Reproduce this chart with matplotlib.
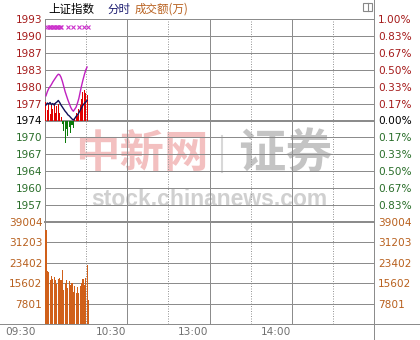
import numpy as np
import matplotlib
matplotlib.use('Agg')
import matplotlib.pyplot as plt
from matplotlib.lines import Line2D
from matplotlib.patches import Rectangle
import matplotlib.transforms as mtransforms

plt.rcParams['font.family'] = ['DejaVu Sans', 'Noto Sans CJK SC']

# ---- data -------------------------------------------------------------- #
prev_close = 1974.0
price_labels = ['1993', '1990', '1987', '1983', '1980', '1977', '1974',
                '1970', '1967', '1964', '1960', '1957']
pct_labels = ['1.00%', '0.83%', '0.67%', '0.50%', '0.33%', '0.17%', '0.00%',
              '0.17%', '0.33%', '0.50%', '0.67%', '0.83%']
vol_ticks = [39004, 31203, 23402, 15602, 7801]
time_labels = ['09:30', '10:30', '13:00', '14:00']
time_ticks = [0, 60, 120, 180]

# index line (minutes since 09:30)
price = [1978.8, 1979.6, 1980.2, 1980.6, 1981.0, 1981.5, 1981.9, 1982.3,
         1982.7, 1983.0, 1982.9, 1982.4, 1981.6, 1980.6, 1979.6, 1978.8,
         1978.0, 1977.3, 1976.6, 1976.1, 1975.8, 1976.2, 1976.6, 1977.4,
         1978.3, 1979.6, 1980.8, 1981.9, 1982.9, 1983.8, 1984.4]
# unweighted index line
avg_line = [1977.0, 1977.4, 1977.2, 1977.5, 1977.1, 1977.3, 1977.0, 1977.4,
            1977.6, 1977.9, 1977.5, 1977.0, 1976.6, 1976.2, 1975.8, 1975.5,
            1975.1, 1974.9, 1974.6, 1974.3, 1974.1, 1974.4, 1974.8, 1975.1,
            1975.5, 1976.0, 1976.5, 1977.0, 1977.3, 1977.6, 1977.9]
# red / green bars (points above/below previous close)
rg_bars = [3.6, 2.0, 3.4, 1.2, 3.0, 2.2, 3.5, 1.5, 2.8, 3.2, 1.4, 0.6,
           -0.6, -2.0, -4.3, -1.6, -3.0, -1.2, -2.4, -0.8, -1.4, 0.4,
           1.5, 0.8, 2.2, 3.0, 4.2, 5.5, 6.0, 5.4, 5.0]
# turnover, 10k yuan per minute
volume = [35800, 20100, 19800, 17000, 18200, 17200, 18000, 16900, 15400,
          17200, 17600, 16700, 20800, 13100, 15700, 16900, 13700, 16300,
          15000, 15700, 12400, 14400, 12000, 14100, 11800, 14400, 15700,
          17200, 15000, 17600, 22700, 9200]
marker_minutes = [1, 2, 3, 4, 5, 6, 7, 8, 9, 10, 11, 16, 20, 24, 28, 31]

# ---- colours ----------------------------------------------------------- #
RED = '#a51b1b'
GREEN = '#2a6e2a'
BROWN = '#b8601e'
GRID = '#8c8c8c'
PX = 0.72  # one pixel in points

W, H = 420, 340
fig = plt.figure(figsize=(W / 100, H / 100), dpi=100)

def fx(px):
    return px / W

def fy(py):
    return 1 - py / H

ax = fig.add_axes([fx(45), fy(222), fx(374) - fx(45), fy(19) - fy(222)])
axv = fig.add_axes([fx(45), fy(324), fx(374) - fx(45), fy(222) - fy(324)])

levels = [prev_close * (1 + k * 0.01 / 6) for k in range(6, -7, -1)][:12]
ymin = prev_close * 0.99
ymax = prev_close * 1.01

for a in (ax, axv):
    a.set_xlim(0, 240)
    a.set_facecolor('none')
    for s in a.spines.values():
        s.set_color(GRID)
        s.set_linewidth(PX)
    a.set_xticks([])
    a.tick_params(length=0)
    for m in range(30, 240, 30):
        if m % 60 == 0:
            a.axvline(m, color=GRID, lw=PX, zorder=1)
        else:
            a.axvline(m, color='#999999', lw=PX, ls=(0, (1, 1.5)), zorder=1)

# price panel
ax.set_ylim(ymin, ymax)
for i, lv in enumerate(levels):
    if i == 0:
        continue
    ax.axhline(lv, color=GRID, lw=2 * PX if i == 6 else PX, zorder=1)
ax.spines['bottom'].set_linewidth(2 * PX)

lab_colors = [RED] * 6 + ['black'] + [GREEN] * 5
ax.set_yticks(levels)
ax.set_yticklabels(price_labels, fontsize=7.6)
for t, c in zip(ax.get_yticklabels(), lab_colors):
    t.set_color(c)
ax.tick_params(axis='y', pad=2)
axr = ax.twinx()
axr.set_ylim(ymin, ymax)
axr.set_yticks(levels)
axr.set_yticklabels(pct_labels, fontsize=7.6)
for t, c in zip(axr.get_yticklabels(), lab_colors):
    t.set_color(c)
axr.tick_params(length=0, pad=3)
for s in axr.spines.values():
    s.set_visible(False)

mins = np.arange(len(price)) + 0.7
rg = np.array(rg_bars)
ax.bar(mins[rg > 0], rg[rg > 0], bottom=prev_close, width=0.75,
       color='#e00000', zorder=3)
ax.bar(mins[rg < 0], rg[rg < 0], bottom=prev_close, width=0.75,
       color='#0a7a0a', zorder=3)
ax.plot(mins, avg_line, color='#10105a', lw=1.0, zorder=4)
ax.plot(mins, price, color='#c020c0', lw=1.0, zorder=5)
mark_y = levels[0] - (levels[0] - levels[1]) * 0.45
ax.plot(np.array(marker_minutes) + 0.7, [mark_y] * len(marker_minutes), ls='none',
        marker='x', ms=2.2, mew=0.8, color='#cc33cc', zorder=5)

# watermark, under the grid lines
cjk = ['Noto Sans CJK SC', 'DejaVu Sans']
ax.text(fx(142), fy(154), '中新网', family=cjk, fontsize=32, fontweight='bold',
        fontstyle='italic', color='#f3c0c0', ha='center', va='center',
        transform=fig.transFigure, zorder=0.5, clip_on=False)
ax.add_artist(Line2D([fx(222), fx(222)], [fy(172), fy(136)], color='#d8d8d8',
                     lw=1.5, transform=fig.transFigure, zorder=0.5))
ax.text(fx(285), fy(154), '证券', family=cjk, fontsize=34, fontweight='bold',
        color='#c4c4c4', ha='center', va='center',
        transform=fig.transFigure, zorder=0.5, clip_on=False)
ax.text(fx(209), fy(200), 'stock.chinanews.com', family=['Liberation Sans', 'DejaVu Sans'],
        fontsize=16.5, fontweight='bold', color='#d0d0d0', ha='center', va='center',
        transform=fig.transFigure, zorder=0.5, clip_on=False)

# volume panel
axv.set_ylim(0, 39004)
for v in vol_ticks[1:]:
    axv.axhline(v, color=GRID, lw=PX, zorder=1)
axv.set_yticks(vol_ticks)
axv.set_yticklabels([str(v) for v in vol_ticks], fontsize=7.6, color=BROWN)
axv.tick_params(axis='y', pad=2)
axv.spines['top'].set_visible(False)
axvr = axv.twinx()
axvr.set_ylim(0, 39004)
axvr.set_yticks(vol_ticks)
axvr.set_yticklabels([str(v) for v in vol_ticks], fontsize=7.6, color=BROWN)
axvr.tick_params(length=0, pad=3)
for s in axvr.spines.values():
    s.set_visible(False)
axv.bar(np.arange(len(volume)) + 0.7, volume, width=0.8, color='#d0601a', zorder=3)

# time labels
trans = mtransforms.blended_transform_factory(axv.transData, fig.transFigure)
for m, lab in zip(time_ticks, time_labels):
    dx = -9 if m == 0 else -1
    axv.annotate(lab, (m, fy(332)), xycoords=trans, xytext=(dx, 0),
                 textcoords='offset pixels', ha='right', va='center',
                 fontsize=7.6, color='#707070', annotation_clip=False)

# frame lines reaching the figure edges
fig.add_artist(Line2D([0, 1], [fy(324), fy(324)], color=GRID, lw=PX))
fig.add_artist(Line2D([fx(374), fx(374)], [0, 1], color=GRID, lw=PX))
fig.add_artist(Rectangle((fx(363), fy(11)), fx(9), fy(3) - fy(11), fill=False,
                         ec='#888888', lw=0.8))
fig.add_artist(Line2D([fx(367.5), fx(367.5)], [fy(11), fy(3)], color='#888888', lw=0.8))

# header
fig.text(fx(48), fy(9), '上证指数', family=cjk, fontsize=8.3, color='black', va='center')
fig.text(fx(107), fy(9), '分时', family=cjk, fontsize=8.3, color='#1c1c70', va='center')
fig.text(fx(135), fy(9), '成交额(万)', family=cjk, fontsize=8.3, color=BROWN, va='center')

fig.savefig('out.png', dpi=100)
